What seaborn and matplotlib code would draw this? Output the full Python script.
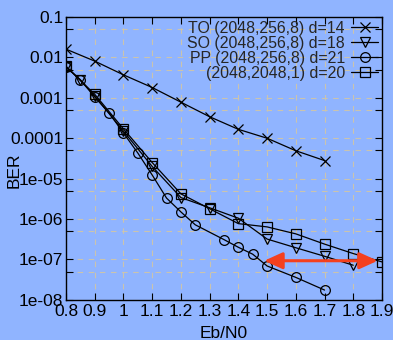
import numpy as np
import pandas as pd
import seaborn as sns
import matplotlib
matplotlib.use("Agg")
import matplotlib.pyplot as plt
from matplotlib.ticker import FixedLocator, NullFormatter

# curves (BER vs Eb/N0)
to_x = [0.8, 0.9, 1.0, 1.1, 1.2, 1.3, 1.4, 1.5, 1.6, 1.7]
to_ber = [1.6e-2, 8.1e-3, 3.7e-3, 1.8e-3, 7.8e-4, 3.4e-4, 1.66e-4, 1.0e-4, 4.9e-5, 2.8e-5]

so_x = [0.8, 0.85, 0.9, 1.0, 1.1, 1.2, 1.3, 1.4, 1.5, 1.6, 1.7, 1.8]
so_ber = [5.9e-3, 2.7e-3, 1.1e-3, 1.5e-4, 2.0e-5, 3.4e-6, 1.9e-6, 1.05e-6, 3.2e-7, 1.95e-7, 1.2e-7, 7.2e-8]

pp_x = [0.8, 0.85, 0.9, 0.95, 1.0, 1.05, 1.1, 1.15, 1.2, 1.25, 1.35, 1.4, 1.45, 1.5, 1.6, 1.7]
pp_ber = [5.9e-3, 2.8e-3, 1.05e-3, 4.2e-4, 1.35e-4, 4.3e-5, 1.23e-5, 3.3e-6, 1.5e-6, 7.2e-7,
          3.1e-7, 2.0e-7, 1.35e-7, 6.9e-8, 3.6e-8, 1.75e-8]

sq_x = [0.8, 0.9, 1.0, 1.1, 1.2, 1.3, 1.4, 1.5, 1.6, 1.7, 1.8, 1.9]
sq_ber = [6.0e-3, 1.22e-3, 1.7e-4, 2.5e-5, 4.2e-6, 1.8e-6, 7.7e-7, 6.4e-7, 4.3e-7, 2.4e-7, 1.4e-7, 8.7e-8]

labels = ["TO (2048,256,8) d=14", "SO (2048,256,8) d=18",
          "PP (2048,256,8) d=21", "(2048,2048,1) d=20"]

xticks = [0.8, 0.9, 1.0, 1.1, 1.2, 1.3, 1.4, 1.5, 1.6, 1.7, 1.8, 1.9]
xtick_labels = ["0.8", "0.9", "1", "1.1", "1.2", "1.3", "1.4", "1.5", "1.6", "1.7", "1.8", "1.9"]
yticks = [1e-1, 1e-2, 1e-3, 1e-4, 1e-5, 1e-6, 1e-7, 1e-8]
ytick_labels = ["0.1", "0.01", "0.001", "0.0001", "1e-05", "1e-06", "1e-07", "1e-08"]

# red arrow (gain at BER ~1e-7)
arrow_x = [1.49, 1.885]
arrow_y = 9.3e-8

bg = "#90b4ff"
sns.set_theme(style="ticks")
plt.rcParams["font.family"] = ["Liberation Sans", "DejaVu Sans"]

fig = plt.figure(figsize=(3.93, 3.40), dpi=100, facecolor=bg)
ax = fig.add_axes([0.168, 0.118, 0.804, 0.832])
ax.set_facecolor(bg)

series = [(to_x, to_ber, "x", 7.5), (so_x, so_ber, "v", 7.0),
          (pp_x, pp_ber, "o", 7.0), (sq_x, sq_ber, "s", 6.5)]
for (xs, ys, m, ms), lab in zip(series, labels):
    sns.lineplot(x=xs, y=ys, ax=ax, color="black", lw=0.9, marker=m, markersize=ms,
                 markerfacecolor="none", markeredgecolor="black", markeredgewidth=0.9,
                 label=lab)

ax.set_yscale("log")
ax.set_xlim(0.8, 1.9)
ax.set_ylim(1e-8, 0.1)
ax.xaxis.set_major_locator(FixedLocator(xticks))
ax.set_xticklabels(xtick_labels)
ax.yaxis.set_major_locator(FixedLocator(yticks))
ax.set_yticklabels(ytick_labels)
ax.yaxis.set_minor_locator(FixedLocator([5 * t for t in yticks[1:]]))
ax.yaxis.set_minor_formatter(NullFormatter())
ax.tick_params(which="both", direction="in", top=True, right=True, length=5,
               width=0.8, color="black", labelsize=12.5, pad=2, labelcolor="black")
ax.tick_params(axis="x", pad=3)
ax.grid(True, which="both", color="#cac4ae", linestyle=(0, (5, 5)), lw=0.8)
ax.set_axisbelow(True)
for s in ax.spines.values():
    s.set_color("black")
    s.set_linewidth(1.0)

ax.set_xlabel("Eb/N0", fontsize=12.5, labelpad=5, color="black")
ax.set_ylabel("BER", fontsize=12.5, color="black", va="bottom")
ax.yaxis.set_label_coords(-0.14, 0.46)

ax.annotate("", xy=(arrow_x[1], arrow_y), xytext=(arrow_x[0], arrow_y),
            arrowprops=dict(arrowstyle="<|-|>,head_length=0.55,head_width=0.25",
                            color="#f4401e", lw=2.2, mutation_scale=20,
                            shrinkA=0, shrinkB=0))

leg = ax.legend(loc="upper right", frameon=False, markerfirst=False, fontsize=11.4,
                labelspacing=0.0, handlelength=1.7, handletextpad=0.4,
                borderaxespad=0.1, borderpad=0.15)
for t in leg.get_texts():
    t.set_ha("right")
leg._legend_box.align = "right"

fig.savefig("out.png", dpi=100, facecolor=bg)
